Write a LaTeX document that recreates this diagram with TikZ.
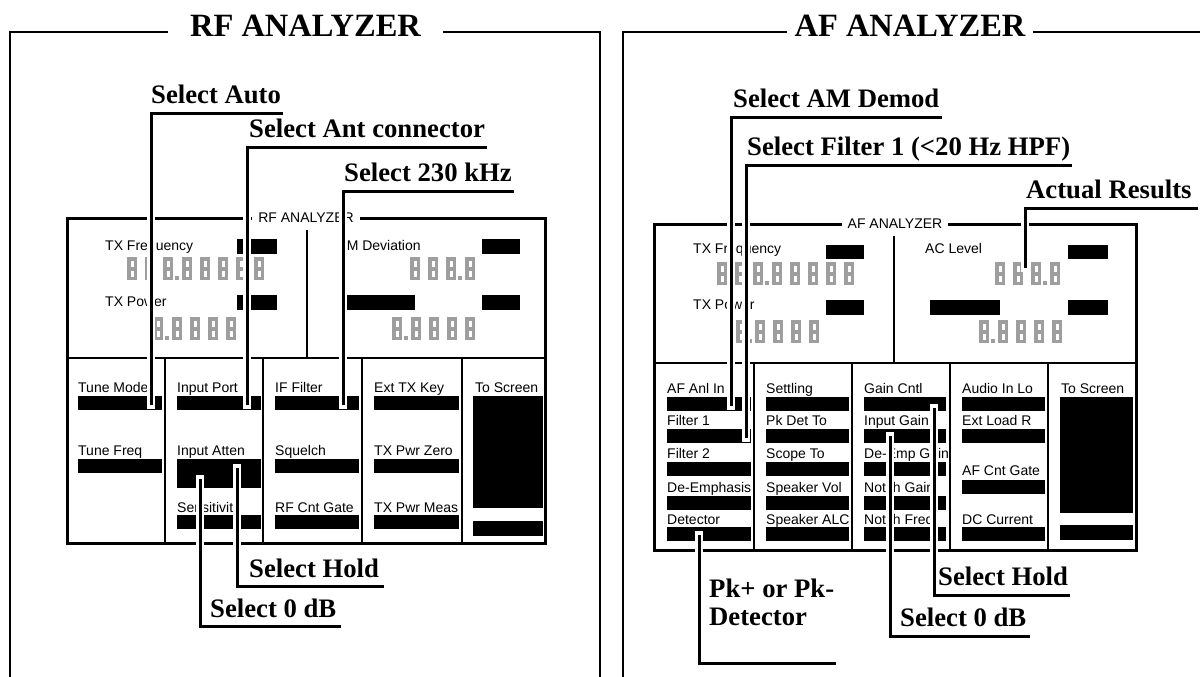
\documentclass[tikz,border=0pt]{standalone}
\usepackage{fontspec}
\setmainfont{Liberation Serif}
\newfontfamily\lcdfont{Liberation Sans}
\newcommand\lcddig[2]{\fill[segp] (#1,#2) rectangle ++(10,23);
  \fill[white] (#1+3.5,#2+3.5) rectangle ++(3,6);
  \fill[white] (#1+3.5,#2+13.5) rectangle ++(3,6);}
\newcommand\lcdrow[4]{%
  \foreach \i in {1,...,#3}{\pgfmathsetmacro\xx{#1+18*(\i-1)}\lcddig{\xx}{#2}}%
  \pgfmathsetmacro\xp{#1+18*#3-6}%
  \fill[segp] (\xp,#2+19) rectangle ++(3.5,3.5);%
  \foreach \i in {1,...,#4}{\pgfmathsetmacro\xx{#1+18*#3+1+18*(\i-1)}\lcddig{\xx}{#2}}%
}
\newcommand\leadline[1]{\draw[halo] #1; \draw[lead] #1;}
\begin{document}
\begin{tikzpicture}[x=1pt,y=-1pt,
  frame/.style={line width=1.6pt},
  scr/.style={line width=3pt},
  divl/.style={line width=1.3pt},
  segp/.style={fill=black!38},
  lbl/.style={font=\lcdfont\fontsize{14}{16}\selectfont,anchor=base west,inner sep=0pt},
  stitle/.style={font=\lcdfont\fontsize{14}{16}\selectfont,fill=white,inner xsep=6pt,inner ysep=3pt},
  callout/.style={font=\bfseries\fontsize{26.7}{30}\selectfont,anchor=base west,inner sep=0pt},
  ttl/.style={font=\bfseries\fontsize{32.5}{36}\selectfont,anchor=base,inner sep=0pt},
  halo/.style={draw=white,line width=8pt,line cap=rect},
  lead/.style={draw=black,line width=3pt},
  bar/.style={fill=black}
]
\useasboundingbox (0,0) rectangle (1200,677);
\fill[white] (0,0) rectangle (1200,677);

% ================= RF ANALYZER =================
\draw[frame] (10,690) -- (10,32) -- (168,32);
\draw[frame] (443,32) -- (600,32) -- (600,690);
\node[ttl] (rft) at (305.5,37) {RF ANALYZER};

% screen
\draw[scr] (67,218) rectangle (545,543);
\draw[divl] (307,230) -- (307,358);
\draw[divl] (67,358) -- (545,358);
\foreach \x in {165,263,362,462} \draw[divl] (\x,358) -- (\x,543);
\node[stitle] (rfs) at (306,218) {RF ANALYZER};

% top display
\node[lbl] (txf) at (105,250) {TX Frequency};
\fill[bar] (237,239) rectangle (277,254);
\lcdrow{127}{257}{3}{5}
\node[lbl] (txp) at (105,306) {TX Power};
\fill[bar] (237,295) rectangle (277,310);
\lcdrow{153}{317}{1}{4}
\node[lbl] (fmd) at (338,250) {FM Deviation};
\fill[bar] (482,239) rectangle (520,254);
\lcdrow{410}{257}{3}{1}
\fill[bar] (345,295) rectangle (415,310);
\fill[bar] (482,295) rectangle (520,310);
\lcdrow{392}{317}{1}{4}

% buttons
\node[lbl] (tmode) at (78,392) {Tune Mode};
\fill[bar] (78,396) rectangle (162,410);
\node[lbl] (tfreq) at (78,455) {Tune Freq};
\fill[bar] (78,459) rectangle (162,473);
\node[lbl] (iport) at (177,392) {Input Port};
\fill[bar] (177,396) rectangle (261,410);
\node[lbl] (iatt) at (177,455) {Input Atten};
\fill[bar] (177,459) rectangle (261,488);
\node[lbl] (sens) at (177,512) {Sensitivity};
\fill[bar] (177,515) rectangle (261,529);
\node[lbl] (iff) at (275,392) {IF Filter};
\fill[bar] (275,396) rectangle (359,410);
\node[lbl] (sq) at (275,455) {Squelch};
\fill[bar] (275,459) rectangle (359,473);
\node[lbl] (rfcg) at (275,512) {RF Cnt Gate};
\fill[bar] (275,515) rectangle (359,529);
\node[lbl] (etk) at (374,392) {Ext TX Key};
\fill[bar] (374,396) rectangle (459,410);
\node[lbl] (tpz) at (374,455) {TX Pwr Zero};
\fill[bar] (374,459) rectangle (459,473);
\node[lbl] (tpm) at (374,512) {TX Pwr Meas};
\fill[bar] (374,515) rectangle (459,529);
\node[lbl] (tos) at (475,392) {To Screen};
\fill[bar] (473,396) rectangle (543,508);
\fill[bar] (473,521) rectangle (543,536);

% callouts
\node[callout] (sauto) at (151,103) {Select Auto};
\node[callout] (sant) at (249,137) {Select Ant connector};
\node[callout] (s230) at (344,181) {Select 230 kHz};
\node[callout] (shold) at (249,577) {Select Hold};
\node[callout] (szero) at (210,617) {Select 0 dB};
\coordinate (eAuto) at (151,405);
\coordinate (eAnt) at (247,405);
\coordinate (e230) at (343,405);
\coordinate (eHold) at (237,468);
\coordinate (eZero) at (200,479);
\leadline{([shift={(2pt,-10pt)}]sauto.base east) -| (eAuto)}
\leadline{([shift={(2pt,-10pt)}]sant.base east) -| (eAnt)}
\leadline{([shift={(2pt,-10pt)}]s230.base east) -| (e230)}
\leadline{(eHold) |- ([shift={(5pt,-9pt)}]shold.base east)}
\leadline{(eZero) |- ([shift={(5pt,-9pt)}]szero.base east)}

% ================= AF ANALYZER =================
\draw[frame] (623,690) -- (623,32) -- (787,32);
\draw[frame] (1033,32) -- (1202,32);
\node[ttl] (aft) at (910,37) {AF ANALYZER};

\draw[scr] (654,224) rectangle (1136,550);
\draw[divl] (894,236) -- (894,363);
\draw[divl] (654,363) -- (1136,363);
\foreach \x in {754,852,950,1048} \draw[divl] (\x,363) -- (\x,550);
\node[stitle] (afs) at (895,224) {AF ANALYZER};

% top display
\node[lbl] (atxf) at (693,253) {TX Frequency};
\fill[bar] (826,245) rectangle (864,259);
\lcdrow{717}{262}{3}{5}
\node[lbl] (atxp) at (693,309) {TX Power};
\fill[bar] (826,300) rectangle (864,315);
\lcdrow{736}{320}{1}{4}
\node[lbl] (acl) at (925,253) {AC Level};
\fill[bar] (1068,245) rectangle (1108,259);
\lcdrow{995}{262}{3}{1}
\fill[bar] (930,300) rectangle (1000,315);
\fill[bar] (1068,300) rectangle (1108,315);
\lcdrow{979}{320}{1}{4}

% buttons col 1
\node[lbl] (afin) at (667,393) {AF Anl In};
\fill[bar] (667,397) rectangle (751,411);
\node[lbl] (f1) at (667,425) {Filter 1};
\fill[bar] (667,429) rectangle (751,443);
\node[lbl] (f2) at (667,458) {Filter 2};
\fill[bar] (667,462) rectangle (751,476);
\node[lbl] (deem) at (667,492) {De-Emphasis};
\fill[bar] (667,496) rectangle (751,510);
\node[lbl] (det) at (667,524) {Detector};
\fill[bar] (667,527) rectangle (751,541);
% col 2
\node[lbl] (sett) at (766,393) {Settling};
\fill[bar] (766,397) rectangle (849,411);
\node[lbl] (pkdt) at (766,425) {Pk Det To};
\fill[bar] (766,429) rectangle (849,443);
\node[lbl] (scto) at (766,458) {Scope To};
\fill[bar] (766,462) rectangle (849,476);
\node[lbl] (spv) at (766,492) {Speaker Vol};
\fill[bar] (766,496) rectangle (849,510);
\node[lbl] (spa) at (766,524) {Speaker ALC};
\fill[bar] (766,527) rectangle (849,541);
% col 3
\node[lbl] (gc) at (864,393) {Gain Cntl};
\fill[bar] (864,397) rectangle (946,411);
\node[lbl] (ig) at (864,425) {Input Gain};
\fill[bar] (864,429) rectangle (946,443);
\node[lbl] (deg) at (864,458) {De-Emp Gain};
\fill[bar] (864,462) rectangle (946,476);
\node[lbl] (ng) at (864,492) {Notch Gain};
\fill[bar] (864,496) rectangle (946,510);
\node[lbl] (nf) at (864,524) {Notch Freq};
\fill[bar] (864,527) rectangle (946,541);
% col 4
\node[lbl] (ail) at (962,393) {Audio In Lo};
\fill[bar] (962,397) rectangle (1045,411);
\node[lbl] (elr) at (962,425) {Ext Load R};
\fill[bar] (962,429) rectangle (1045,443);
\node[lbl] (acg) at (962,475) {AF Cnt Gate};
\fill[bar] (962,480) rectangle (1045,494);
\node[lbl] (dcc) at (962,524) {DC Current};
\fill[bar] (962,527) rectangle (1045,541);
% col 5
\node[lbl] (atos) at (1061,393) {To Screen};
\fill[bar] (1060,397) rectangle (1133,513);
\fill[bar] (1060,525) rectangle (1133,540);

% callouts
\node[callout] (sam) at (733,107) {Select AM Demod};
\node[callout] (sfilt) at (747,155) {Select Filter 1 (<20 Hz HPF)};
\node[callout] (sact) at (1026,198) {Actual Results};
\node[callout] (ahold) at (938,585) {Select Hold};
\node[callout] (azero) at (900,626) {Select 0 dB};
\node[callout] (pk1) at (709,597) {Pk+ or Pk-};
\node[callout] (pk2) at (709,625) {Detector};
\coordinate (eAM) at (731,406);
\coordinate (eFilt) at (746,438);
\coordinate (eAct) at (1025,268);
\coordinate (eaHold) at (934,408);
\coordinate (eaZero) at (890,436);
\coordinate (ePk) at (699,535);
\leadline{([shift={(2pt,-10pt)}]sam.base east) -| (eAM)}
\leadline{([shift={(2pt,-10pt)}]sfilt.base east) -| (eFilt)}
\leadline{([shift={(6pt,-10pt)}]sact.base east) -| (eAct)}
\leadline{(eaHold) |- ([shift={(2pt,-10pt)}]ahold.base east)}
\leadline{(eaZero) |- ([shift={(4pt,-10pt)}]azero.base east)}
\leadline{(ePk) |- ([shift={(2pt,-38pt)}]pk2.base -| pk1.base east)}
\end{tikzpicture}
\end{document}
